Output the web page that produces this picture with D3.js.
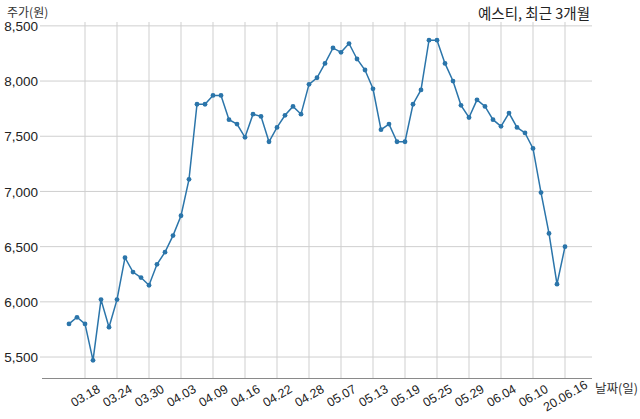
<!DOCTYPE html>
<html><head><meta charset="utf-8">
<script src="https://cdn.jsdelivr.net/npm/d3@7"></script>
<style>
html,body{margin:0;padding:0;background:#fff;}
svg{display:block;font-family:"Noto Sans CJK KR","Open Sans",sans-serif;}
</style></head>
<body>
<svg id="chart" width="640" height="419"></svg>
<script>
const title = "예스티, 최근 3개월";
const yLabel = "주가(원)";
const xLabel = "날짜(일)";
const prices = [5800,5860,5800,5470,6020,5770,6020,6400,6270,6220,6150,6340,6450,6600,6780,7110,
  7790,7790,7870,7870,7650,7610,7490,7700,7680,7450,7580,7690,7770,7700,7970,8030,8160,8300,8260,8340,
  8200,8100,7930,7560,7610,7450,7450,7790,7920,8370,8370,8160,8000,7780,7670,7830,7770,7650,7590,7710,
  7580,7530,7390,6990,6620,6160,6500];
const tickIdx = [2,6,10,14,18,22,26,30,34,38,42,46,50,54,58,62];
const tickLabels = ["03.18","03.24","03.30","04.03","04.09","04.16","04.22","04.28","05.07","05.13","05.19","05.25","05.29","06.04","06.10","20.06.16"];
const yTicks = [5500,6000,6500,7000,7500,8000,8500];

const svg = d3.select("#chart");
const L = 42, R = 592, T = 22, B = 378;
const x = d3.scaleLinear().domain([-3.375, prices.length - 1 + 3.375]).range([L, R]);
const y = d3.scaleLinear().domain([5310, 8535]).range([B, T]);

// horizontal grid
svg.append("g").selectAll("line").data(yTicks).join("line")
  .attr("x1", L - 2).attr("x2", R).attr("y1", d => y(d)).attr("y2", d => y(d))
  .attr("stroke", "#cfcfcf").attr("stroke-width", 1);
// vertical grid
svg.append("g").selectAll("line").data(tickIdx).join("line")
  .attr("x1", d => x(d)).attr("x2", d => x(d)).attr("y1", T).attr("y2", B)
  .attr("stroke", "#cfcfcf").attr("stroke-width", 1);

// x axis
const xAxis = d3.axisBottom(x).tickValues(tickIdx).tickFormat((d, i) => tickLabels[i]).tickSize(0).tickPadding(0);
const gx = svg.append("g").attr("transform", `translate(0,${B})`).call(xAxis);
gx.select(".domain").attr("stroke", "#8a8a8a").attr("d", `M${L},0.5H${R}`);
gx.selectAll("text")
  .attr("font-size", 12.5).attr("fill", "#222")
  .attr("text-anchor", "middle").attr("dy", 0).attr("y", 0)
  .attr("dominant-baseline", "central")
  .attr("transform", "translate(0,18) rotate(-30)");

// y axis
const yAxis = d3.axisLeft(y).tickValues(yTicks).tickFormat(d3.format(",")).tickSize(0).tickPadding(0);
const gy = svg.append("g").attr("transform", `translate(38,0)`).call(yAxis);
gy.select(".domain").remove();
gy.selectAll("text").attr("font-size", 13.5).attr("fill", "#222").attr("dy", "0.35em");

// line
const line = d3.line().x((d, i) => x(i)).y(d => y(d));
svg.append("path").datum(prices).attr("d", line)
  .attr("fill", "none").attr("stroke", "#2b75aa").attr("stroke-width", 1.5);
svg.append("g").selectAll("circle").data(prices).join("circle")
  .attr("cx", (d, i) => x(i)).attr("cy", d => y(d)).attr("r", 2.4)
  .attr("fill", "#2b75aa");

// labels
svg.append("text").attr("x", 7).attr("y", 17).attr("font-size", 12).attr("fill", "#333").text(yLabel);
svg.append("text").attr("x", 590).attr("y", 19).attr("text-anchor", "end").attr("font-size", 14.5).attr("fill", "#222").text(title);
svg.append("text").attr("x", 595).attr("y", 393).attr("font-size", 12.5).attr("fill", "#333").text(xLabel);
</script>
</body></html>
